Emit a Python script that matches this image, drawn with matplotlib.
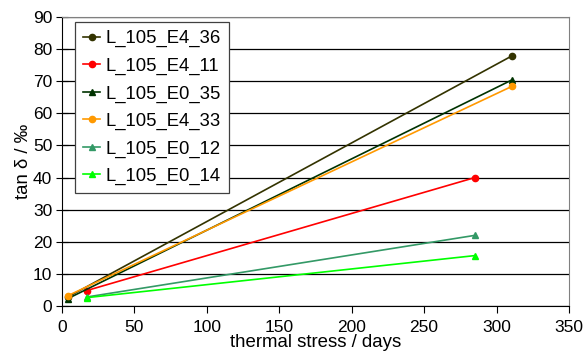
import matplotlib
matplotlib.use("Agg")
import matplotlib.pyplot as plt

plt.rcParams['font.family'] = ['Liberation Sans', 'DejaVu Sans']

# data
labels = ['L_105_E4_36', 'L_105_E4_11', 'L_105_E0_35', 'L_105_E4_33', 'L_105_E0_12', 'L_105_E0_14']
days = [[4, 311], [17, 285], [4, 311], [4, 311], [17, 285], [17, 285]]
tand = [[2.8, 78.0], [4.8, 40.0], [2.3, 70.5], [3.2, 68.5], [2.8, 22.0], [2.6, 15.7]]
colors = ['#333300', '#ff0000', '#003300', '#ff9900', '#339966', '#00ff00']
markers = ['o', 'o', '^', 'o', '^', '^']

fig = plt.figure(figsize=(5.87, 3.63), dpi=100)
ax = fig.add_axes([0.1056, 0.157, 0.8637, 0.796])

for i in range(len(labels)):
    ax.plot(days[i], tand[i], color=colors[i], marker=markers[i], markersize=4.5,
            lw=1.2, label=labels[i], zorder=3)

ax.set_xlim(0, 350)
ax.set_ylim(0, 90)
ax.set_xticks(range(0, 351, 50))
ax.set_yticks(range(0, 91, 10))
ax.yaxis.grid(True, color='black', lw=0.9)
ax.set_axisbelow(True)
ax.tick_params(axis='x', labelsize=12.5, direction='out', length=5, color='black', pad=5)
ax.tick_params(axis='y', labelsize=12.5, direction='inout', length=8, color='black', pad=3)
for s in ['top', 'right']:
    ax.spines[s].set_color('#808080')
for s in ['left', 'bottom']:
    ax.spines[s].set_color('black')

ax.set_xlabel('thermal stress / days', fontsize=13.4, labelpad=-1)
ax.set_ylabel('tan δ / ‰', fontsize=13.4, labelpad=1)

leg = ax.legend(loc='upper left', bbox_to_anchor=(0.026, 0.983), borderaxespad=0,
                fontsize=13.3, fancybox=False, framealpha=1, edgecolor='#404040',
                handlelength=0.9, handletextpad=0.3, labelspacing=0.56, borderpad=0.45)
leg.get_frame().set_linewidth(0.9)

plt.savefig('out.png', dpi=100)
